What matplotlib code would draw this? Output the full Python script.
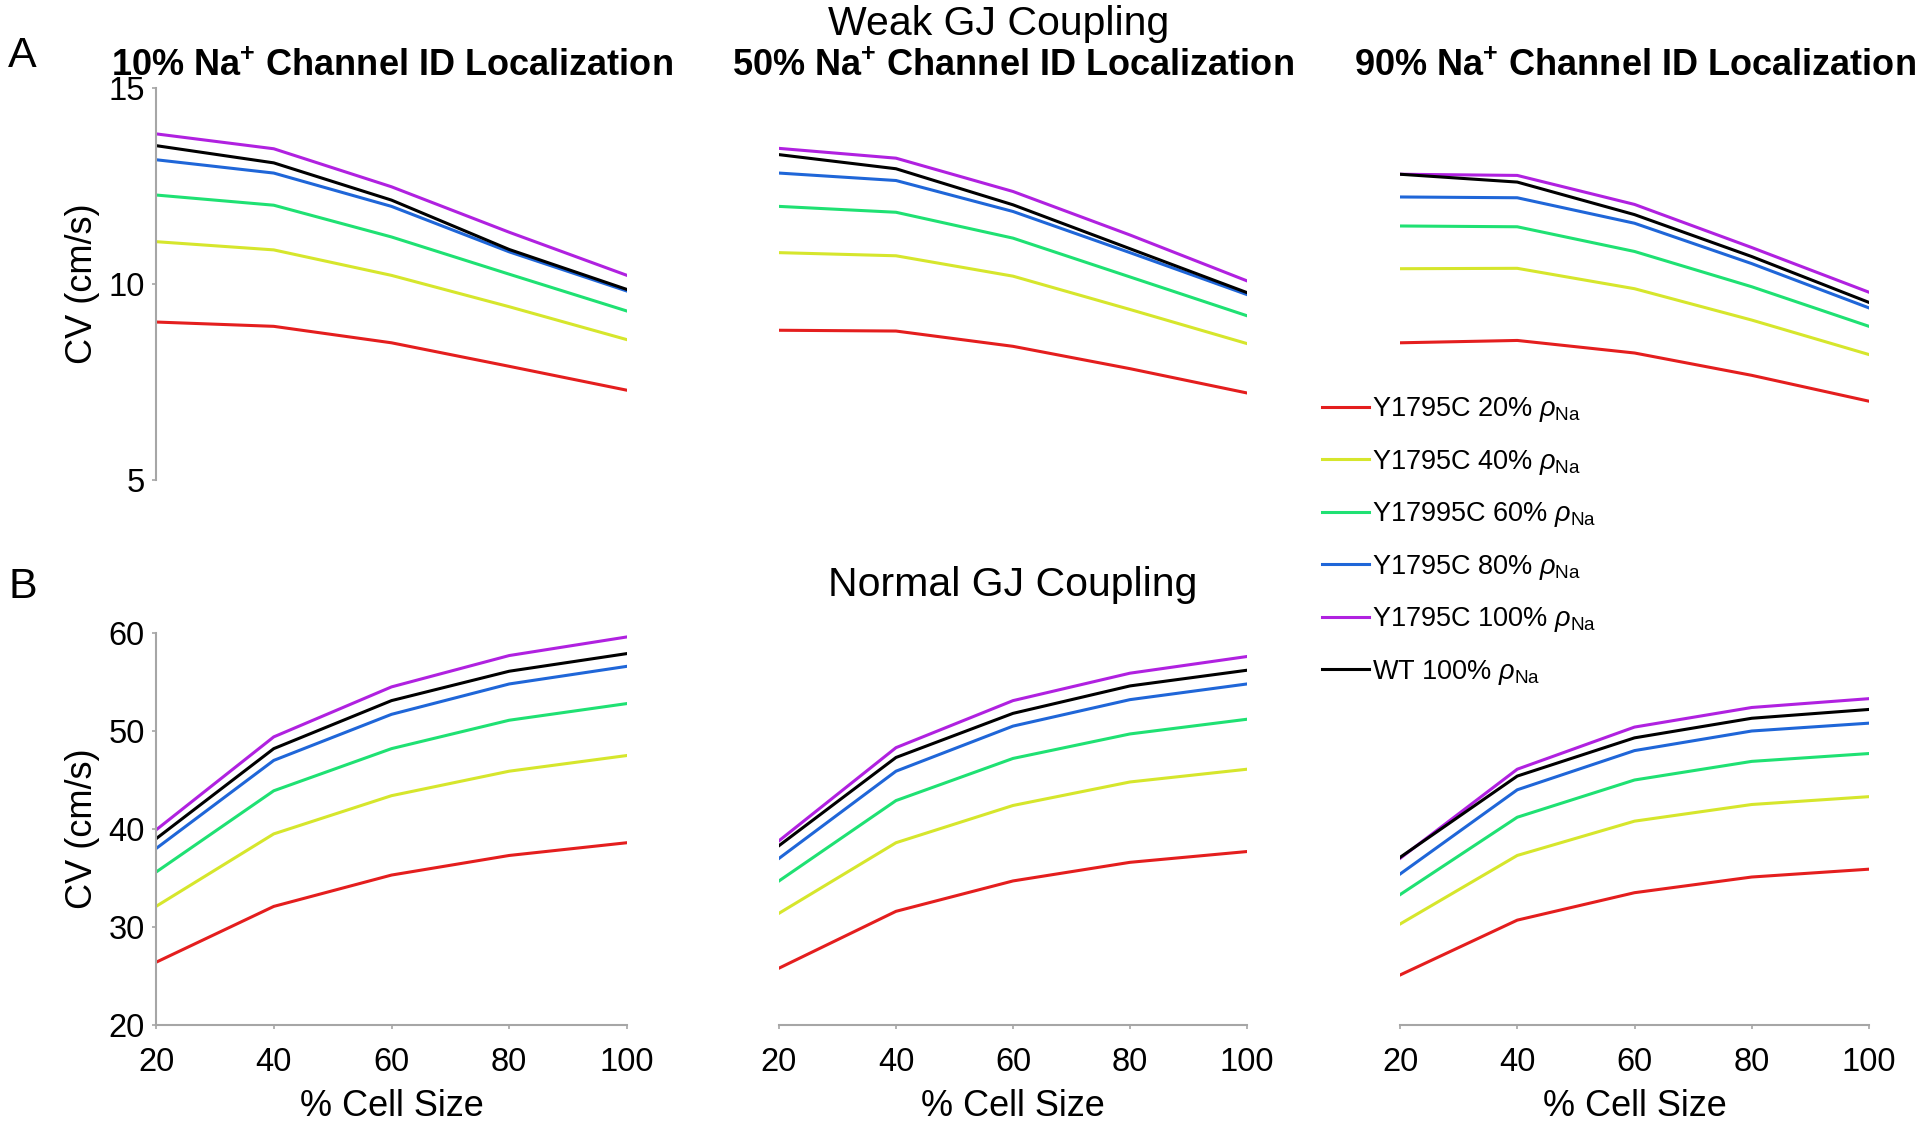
import matplotlib
matplotlib.use('Agg')
import matplotlib.pyplot as plt

plt.rcParams['font.family'] = ['Liberation Sans', 'DejaVu Sans']
plt.rcParams['mathtext.fontset'] = 'custom'
plt.rcParams['mathtext.rm'] = 'Liberation Sans'
plt.rcParams['mathtext.it'] = 'Liberation Sans:italic'
plt.rcParams['mathtext.bf'] = 'Liberation Sans:bold'

cell_size = [20, 40, 60, 80, 100]

series_labels = [
    r'Y1795C 20% $\rho_{\mathrm{Na}}$',
    r'Y1795C 40% $\rho_{\mathrm{Na}}$',
    r'Y17995C 60% $\rho_{\mathrm{Na}}$',
    r'Y1795C 80% $\rho_{\mathrm{Na}}$',
    r'Y1795C 100% $\rho_{\mathrm{Na}}$',
    r'WT 100% $\rho_{\mathrm{Na}}$',
]
series_colors = ['#e41e1e', '#d6e62c', '#1fe173', '#1f66d8', '#b021e0', '#000000']

panel_titles = ['10%', '50%', '90%']

# CV (cm/s), one row per series (same order as series_labels)
weak_10 = [
    [9.03, 8.92, 8.50, 7.90, 7.29],
    [11.08, 10.87, 10.22, 9.42, 8.58],
    [12.27, 12.01, 11.20, 10.25, 9.31],
    [13.17, 12.83, 11.98, 10.82, 9.82],
    [13.83, 13.45, 12.48, 11.32, 10.22],
    [13.53, 13.09, 12.14, 10.88, 9.86],
]
weak_50 = [
    [8.82, 8.80, 8.41, 7.84, 7.22],
    [10.80, 10.72, 10.20, 9.35, 8.48],
    [11.98, 11.83, 11.17, 10.18, 9.19],
    [12.83, 12.64, 11.85, 10.80, 9.73],
    [13.46, 13.21, 12.36, 11.25, 10.08],
    [13.30, 12.94, 12.02, 10.90, 9.78],
]
weak_90 = [
    [8.50, 8.56, 8.24, 7.67, 7.01],
    [10.39, 10.40, 9.88, 9.08, 8.20],
    [11.48, 11.46, 10.83, 9.93, 8.92],
    [12.22, 12.20, 11.55, 10.52, 9.39],
    [12.80, 12.77, 12.03, 10.93, 9.79],
    [12.80, 12.60, 11.77, 10.70, 9.53],
]
normal_10 = [
    [26.4, 32.1, 35.3, 37.3, 38.6],
    [32.1, 39.5, 43.4, 45.9, 47.5],
    [35.6, 43.9, 48.2, 51.1, 52.8],
    [38.0, 47.0, 51.7, 54.8, 56.6],
    [39.9, 49.4, 54.5, 57.7, 59.6],
    [39.0, 48.2, 53.1, 56.1, 57.9],
]
normal_50 = [
    [25.8, 31.6, 34.7, 36.6, 37.7],
    [31.4, 38.6, 42.4, 44.8, 46.1],
    [34.7, 42.9, 47.2, 49.7, 51.2],
    [37.0, 45.9, 50.5, 53.2, 54.8],
    [38.8, 48.3, 53.1, 55.9, 57.6],
    [38.3, 47.3, 51.8, 54.6, 56.2],
]
normal_90 = [
    [25.1, 30.7, 33.5, 35.1, 35.9],
    [30.3, 37.3, 40.8, 42.5, 43.3],
    [33.3, 41.2, 45.0, 46.9, 47.7],
    [35.4, 44.0, 48.0, 50.0, 50.8],
    [37.0, 46.1, 50.4, 52.4, 53.3],
    [37.1, 45.4, 49.3, 51.3, 52.2],
]

W, H = 1920, 1129
fig = plt.figure(figsize=(W / 100, H / 100), dpi=100)

spine_col = '#a6a6a6'
# pixel boxes: (left, right) for columns, (top, bottom) for rows
cols = [(156, 627), (779, 1247), (1400, 1869)]
rows = [(88, 480), (633, 1025)]


def make_ax(col, row):
    x0, x1 = cols[col]
    y0, y1 = rows[row]
    return fig.add_axes([x0 / W, 1 - y1 / H, (x1 - x0) / W, (y1 - y0) / H])


def style_ax(ax, show_x, show_y):
    for s in ['top', 'right']:
        ax.spines[s].set_visible(False)
    for s in ['left', 'bottom']:
        ax.spines[s].set_color(spine_col)
        ax.spines[s].set_linewidth(1.5)
    ax.spines['bottom'].set_visible(show_x)
    ax.spines['left'].set_visible(show_y)
    ax.tick_params(axis='x', direction='out', length=3, width=1.2, color=spine_col,
                   labelsize=23.5, pad=13, bottom=show_x, labelbottom=show_x)
    ax.tick_params(axis='y', direction='out', length=3, width=1.2, color=spine_col,
                   labelsize=23.5, pad=5, left=show_y, labelleft=show_y)
    ax.set_facecolor('none')


weak = [weak_10, weak_50, weak_90]
normal = [normal_10, normal_50, normal_90]

for c in range(3):
    ax = make_ax(c, 0)
    for vals, col in zip(weak[c], series_colors):
        ax.plot(cell_size, vals, color=col, lw=2.2, solid_joinstyle='round')
    ax.set_xlim(20, 100)
    ax.set_ylim(5, 15)
    ax.set_yticks([5, 10, 15])
    style_ax(ax, False, c == 0)
    if c == 0:
        ax.set_ylabel('CV (cm/s)', fontsize=26, labelpad=6)
    xc = (cols[c][0] + cols[c][1]) / 2 / W
    fig.text(xc, 1 - 76 / H, panel_titles[c] + r' Na$^{\mathbf{+}}$ Channel ID Localization',
             ha='center', va='baseline', fontsize=26, fontweight='bold')

    ax = make_ax(c, 1)
    for vals, col in zip(normal[c], series_colors):
        ax.plot(cell_size, vals, color=col, lw=2.2, solid_joinstyle='round')
    ax.set_xlim(20, 100)
    ax.set_ylim(20, 60)
    ax.set_xticks(cell_size)
    ax.set_yticks([20, 30, 40, 50, 60])
    style_ax(ax, True, c == 0)
    ax.set_xlabel('% Cell Size', fontsize=26, labelpad=8)
    if c == 0:
        ax.set_ylabel('CV (cm/s)', fontsize=26, labelpad=6)

fig.text(999 / W, 1 - 35 / H, 'Weak GJ Coupling', ha='center', va='baseline', fontsize=29.5)
fig.text(1013 / W, 1 - 596 / H, 'Normal GJ Coupling', ha='center', va='baseline', fontsize=29.5)
fig.text(8 / W, 1 - 67 / H, 'A', ha='left', va='baseline', fontsize=31)
fig.text(9 / W, 1 - 598 / H, 'B', ha='left', va='baseline', fontsize=31)

handles = [plt.Line2D([], [], color=col, lw=2.2) for col in series_colors]
fig.legend(handles, series_labels, loc='upper left', bbox_to_anchor=(1322 / W, 1 - 395 / H),
           frameon=False, fontsize=19.5, handlelength=1.75, handletextpad=0.1,
           labelspacing=0.87, borderpad=0, borderaxespad=0)

fig.savefig('out.png', dpi=100)
